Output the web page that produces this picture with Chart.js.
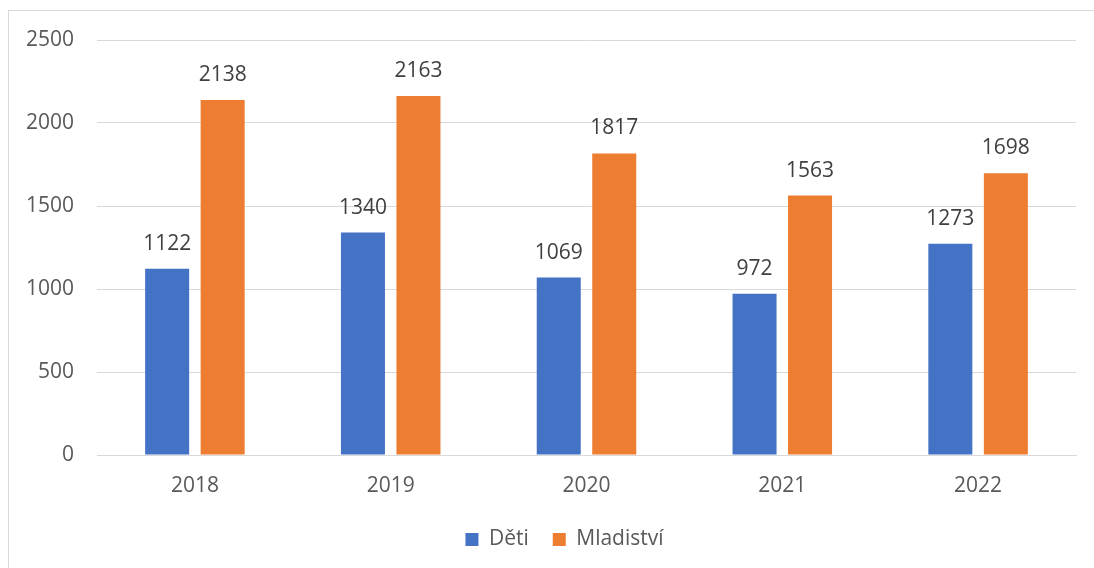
<!DOCTYPE html>
<html>
<head>
<meta charset="utf-8">
<script src="https://cdn.jsdelivr.net/npm/chart.js@4"></script>
<style>
  html, body { margin: 0; padding: 0; background: #fff; overflow: hidden; }
  #frame { position: absolute; left: 8px; top: 10px; width: 1200px; height: 700px; border: 1px solid #d9d9d9; box-sizing: border-box; }
  #wrap { position: absolute; left: 0; top: 0; width: 1094px; height: 568px; }
</style>
</head>
<body>
<div id="frame"></div>
<div id="wrap"><canvas id="c" width="1094" height="568"></canvas></div>
<script>
const categories = ['2018', '2019', '2020', '2021', '2022'];
const detiValues = [1122, 1340, 1069, 972, 1273];
const mladistviValues = [2138, 2163, 1817, 1563, 1698];
const yTicks = [0, 500, 1000, 1500, 2000, 2500];

const FONT = '"Open Sans", sans-serif';

const valueLabels = {
  id: 'valueLabels',
  afterDatasetsDraw(chart) {
    const ctx = chart.ctx;
    ctx.save();
    ctx.font = '21px ' + FONT;
    ctx.fillStyle = '#404040';
    ctx.textAlign = 'center';
    ctx.textBaseline = 'middle';
    chart.data.datasets.forEach((ds, di) => {
      const meta = chart.getDatasetMeta(di);
      meta.data.forEach((bar, i) => {
        ctx.fillText(String(ds.data[i]), bar.x, bar.y - 25);
      });
    });
    ctx.restore();
  }
};

// Place the legend slightly right of the canvas centre, as in the reference
const legendShift = {
  id: 'legendShift',
  afterLayout(chart) {
    const lg = chart.legend;
    if (!lg) return;
    const target = (chart.chartArea.left + chart.chartArea.right) / 2 - 22;
    const shift = target - (lg.left + lg.right) / 2;
    lg.left += shift;
    lg.right += shift;
  }
};

new Chart(document.getElementById('c'), {
  type: 'bar',
  data: {
    labels: categories,
    datasets: [
      { label: 'Děti', data: detiValues, backgroundColor: '#4472C4' },
      { label: 'Mladiství', data: mladistviValues, backgroundColor: '#ED7D31' }
    ]
  },
  options: {
    responsive: false,
    animation: false,
    devicePixelRatio: 1,
    categoryPercentage: 0.567,
    barPercentage: 0.793,
    layout: { padding: { left: 0, right: 18, top: 40, bottom: 8 } },
    plugins: {
      legend: {
        position: 'bottom',
        labels: {
          font: { family: FONT, size: 21 },
          color: '#595959',
          boxWidth: 13,
          boxHeight: 13,
          padding: 24
        }
      },
      tooltip: { enabled: false }
    },
    scales: {
      x: {
        grid: { display: false, drawTicks: false },
        border: { display: true, color: '#d9d9d9' },
        ticks: { font: { family: FONT, size: 21 }, color: '#595959', padding: 18 },
        afterFit(scale) { scale.height = 50; }
      },
      y: {
        min: 0, max: 2500,
        afterBuildTicks(scale) { scale.ticks = yTicks.map(v => ({ value: v })); },
        grid: { color: '#d9d9d9', drawTicks: false },
        border: { display: false },
        ticks: {
          font: { family: FONT, size: 21 }, color: '#595959', padding: 23,
          callback: (v) => String(v)
        },
        afterFit(scale) { scale.width = 97; }
      }
    }
  },
  plugins: [valueLabels, legendShift]
});
</script>
</body>
</html>
